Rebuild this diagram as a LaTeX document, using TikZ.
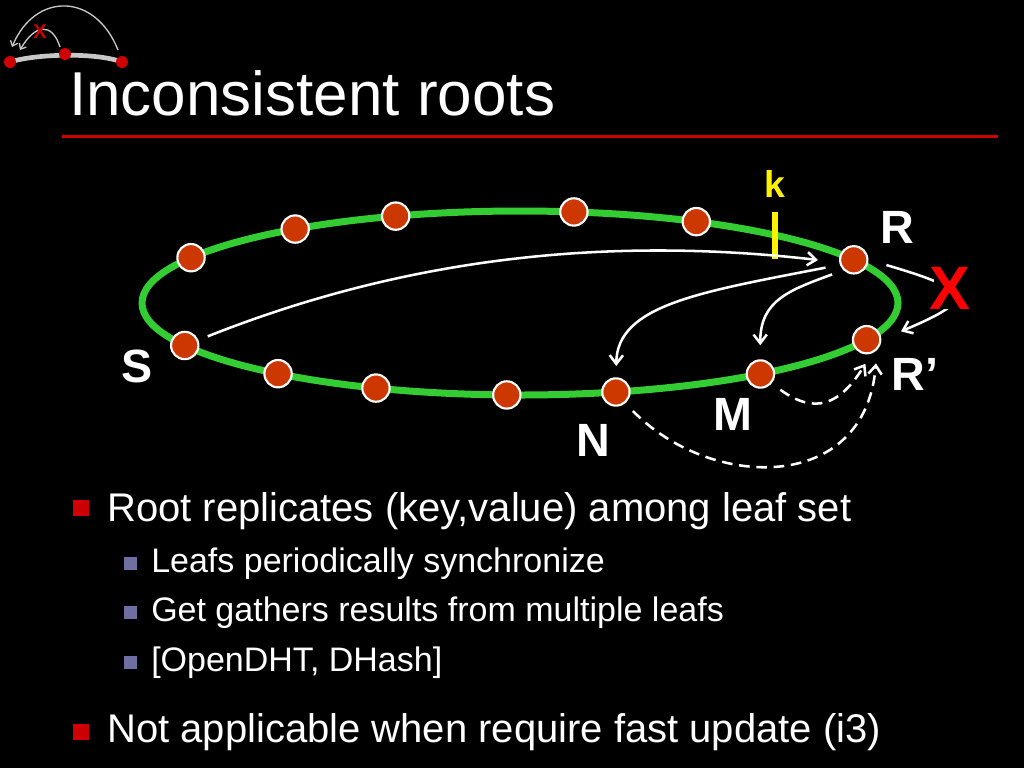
\documentclass[tikz,border=0pt]{standalone}
\usepackage{fontspec}
\setmainfont{Liberation Sans}
\usetikzlibrary{arrows.meta}

\definecolor{ringgreen}{RGB}{51,204,51}
\definecolor{peerred}{RGB}{204,56,0}
\definecolor{barred}{RGB}{204,0,0}
\definecolor{subblue}{RGB}{110,110,160}
\definecolor{logogray}{RGB}{200,200,200}

\begin{document}
\begin{tikzpicture}[x=0.75pt,y=-0.75pt,
    peer/.style={circle,fill=peerred,draw=white,line width=1.6pt,minimum size=20.5pt,inner sep=0pt},
    lbl/.style={text=white,font=\fontsize{35}{35}\selectfont\bfseries,inner sep=0pt},
    link/.style={white,line width=1.9pt,-{Straight Barb[length=6.5pt,width=10pt]}},
    sync/.style={link,dash pattern=on 8pt off 5pt},
    txt/.style={text=white,anchor=base west,inner sep=0pt}]
  \useasboundingbox (0,0) rectangle (1024,768);
  \fill[black] (0,0) rectangle (1024,768);
  % logo
  \draw[logogray,line width=3.5pt] (10,62) .. controls (35,54) and (95,52) .. (122,62);
  \foreach \x/\y in {10/62,65/54,122/62}
    \fill[barred] (\x,\y) circle[radius=6];
  \draw[logogray,line width=1pt,-{Straight Barb[length=3.5pt,width=6pt]}] (118,50) .. controls (95,-8) and (35,-8) .. (12,47);
  \draw[logogray,line width=1pt,-{Straight Barb[length=3.5pt,width=6pt]}] (60,47) .. controls (52,22) and (35,24) .. (20,50);
  \node[text=barred,font=\fontsize{15}{15}\selectfont\bfseries,inner sep=0pt] (logox) at (40,32) {X};
  % title
  \node[txt,font=\fontsize{46.5}{46.5}\selectfont] (title) at (69,115) {Inconsistent roots};
  \draw[barred,line width=2.25pt] (62,136) -- (998,136);
  % ring of peers
  \draw[ringgreen,line width=5.25pt] (520,303) ellipse [x radius=378,y radius=92];
  \foreach \a/\n in {150.5/p1,126.5/p2,109.2/p3,81.8/p4,62.2/p5,28/R,-23.5/Rp,-50.5/M,-75.3/N,-92/p6,-112.4/p7,-129.8/p8,-152.5/S}
    \node[peer] (\n) at ({520+378*cos(\a)},{303-92*sin(\a)}) {};
  \node[lbl] (Slbl) at (137,366) {S};
  \node[lbl] (Rlbl) at (897,227) {R};
  \node[lbl] (Rplbl) at (915,374) {R’};
  \node[lbl] (Mlbl) at (733,414) {M};
  \node[lbl] (Nlbl) at (593,440) {N};
  \node[text=yellow,font=\fontsize{28}{28}\selectfont\bfseries,inner sep=0pt] (k) at (775,184) {k};
  \draw[yellow,line width=5pt] (775,212) -- (775,259);
  % routing
  \coordinate (rin) at (818,260);
  \draw[link,shorten <=7.5pt] (S) .. controls (400,260) and (600,235) .. (rin);
  \draw[link,shorten <=11pt,shorten >=8.5pt] (R.200) .. controls (700,292) and (617,305) .. (N);
  \draw[link,shorten <=9pt,shorten >=10.5pt] (R.225) .. controls (790,290) and (760,300) .. (M);
  \draw[link,shorten <=14pt,shorten >=16pt] (R.east) .. controls (975,291) and (975,300) .. (Rp.east);
  \node[text=red,fill=black,font=\fontsize{46}{46}\selectfont\bfseries,inner xsep=-3pt,inner ysep=0pt] (X) at (950,288) {X};
  % replication
  \draw[sync,shorten <=8pt,shorten >=9pt] (M.-40) .. controls (815,415) and (840,405) .. (Rp.-70);
  \draw[sync,shorten <=8pt,shorten >=10pt] (N.-50) .. controls (710,490) and (865,495) .. (Rp.-45);
  % bullets
  \fill[barred] (73,500) rectangle (89,516);
  \node[txt,font=\fontsize{30}{36}\selectfont] (b1) at (107,521) {Root replicates (key,value) among leaf set};
  \foreach \y/\t in {572/{Leafs periodically synchronize},621/{Get gathers results from multiple leafs},671/{[OpenDHT, DHash]}} {
    \fill[subblue] (123.5,\y-15) rectangle (136.5,\y-2);
    \node[txt,font=\fontsize{25.5}{30}\selectfont] at (151,\y) {\t};
  }
  \fill[barred] (73,724) rectangle (89,740);
  \node[txt,font=\fontsize{30}{36}\selectfont] (b2) at (107,742) {Not applicable when require fast update (i3)};
\end{tikzpicture}
\end{document}
